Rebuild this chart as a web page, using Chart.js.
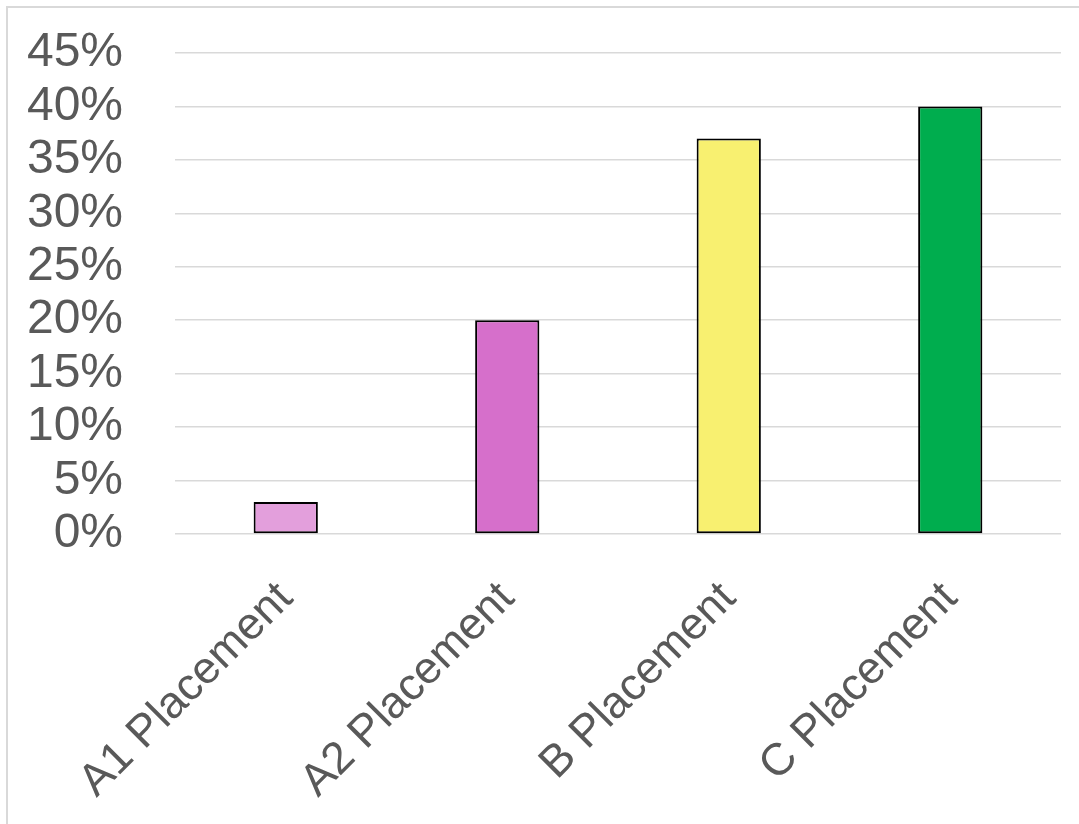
<!DOCTYPE html>
<html>
<head>
<meta charset="utf-8">
<script src="https://cdn.jsdelivr.net/npm/chart.js@4/dist/chart.umd.min.js"></script>
<style>
  html, body { margin: 0; padding: 0; background: #fff; overflow: hidden; }
  #frame {
    position: absolute; left: 6px; top: 6px;
    width: 1200px; height: 1000px;
    border: 2px solid #d9d9d9; box-sizing: border-box;
  }
  #grafico { position: absolute; left: 0; top: 0; }
</style>
</head>
<body>
<div id="frame"></div>
<canvas id="grafico" width="1079" height="824"></canvas>
<script>
const categorias = ['A1 Placement', 'A2 Placement', 'B Placement', 'C Placement'];
const valores = [3, 20, 37, 40];
const colores = ['#E39FDC', '#D66FCB', '#F8F070', '#00AD4E'];
const ticksY = [0, 5, 10, 15, 20, 25, 30, 35, 40, 45];

const fuente = '"Liberation Sans", Arial, sans-serif';
const gris = '#595959';

const ctx = document.getElementById('grafico').getContext('2d');
new Chart(ctx, {
    type: 'bar',
    data: {
        labels: categorias,
        datasets: [{
            data: valores,
            backgroundColor: colores,
            borderColor: '#000000',
            borderWidth: 2,
            borderSkipped: false,
            barPercentage: 0.29,
            categoryPercentage: 1
        }]
    },
    options: {
        responsive: false,
        animation: false,
        layout: { padding: { top: 53, right: 18, left: 0, bottom: 0 } },
        plugins: {
            legend: { display: false },
            tooltip: { enabled: false }
        },
        scales: {
            x: {
                grid: { display: false },
                border: { display: false },
                ticks: {
                    color: gris,
                    font: { family: fuente, size: 45 },
                    minRotation: 45,
                    maxRotation: 45,
                    padding: 30
                },
                afterFit: (s) => { s.height = 290; s.paddingLeft = 0; s.paddingRight = 0; }
            },
            y: {
                min: 0,
                max: 45,
                grid: { color: '#d9d9d9', lineWidth: 1.5, drawTicks: false },
                border: { display: false },
                afterBuildTicks: (s) => { s.ticks = ticksY.map(v => ({ value: v })); },
                ticks: {
                    color: gris,
                    autoSkip: false,
                    font: { family: fuente, size: 48 },
                    padding: 52,
                    callback: (v) => v + '%'
                },
                afterFit: (s) => { s.width = 175; s.paddingTop = 0; s.paddingBottom = 0; }
            }
        }
    }
});
</script>
</body>
</html>
